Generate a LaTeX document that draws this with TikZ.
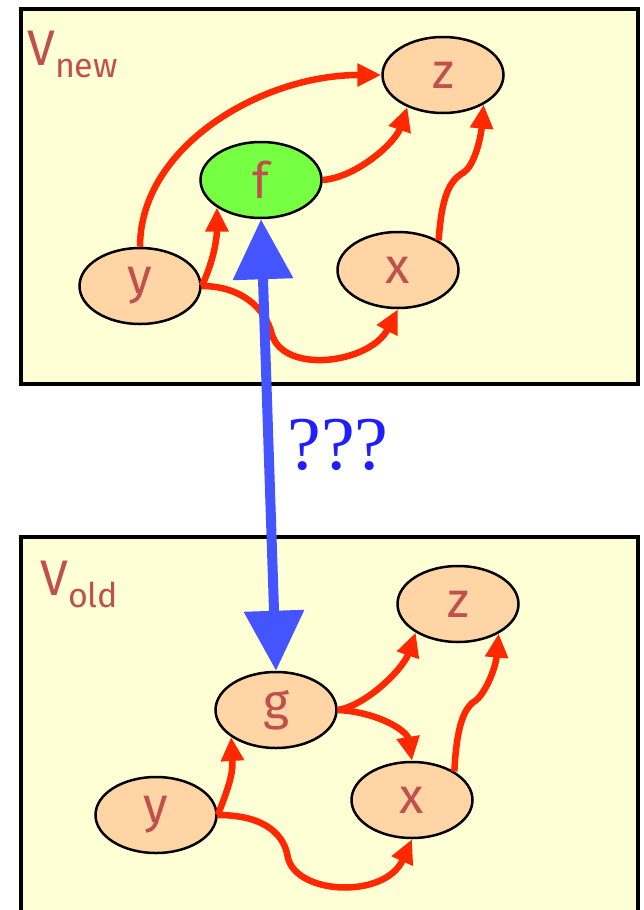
\documentclass[tikz,border=0pt]{standalone}
\usepackage{fontspec}
\setmainfont{Liberation Serif}
\newfontfamily\handfont{Fira Sans}
\usetikzlibrary{arrows.meta, shapes.geometric}

\definecolor{paper}{RGB}{255,255,213}
\definecolor{peach}{RGB}{255,213,165}
\definecolor{lime}{RGB}{119,255,68}
\definecolor{ink}{RGB}{192,80,77}
\definecolor{wire}{RGB}{255,40,0}
\definecolor{link}{RGB}{68,85,255}
\definecolor{qblue}{RGB}{30,30,255}

\begin{document}
\begin{tikzpicture}[x=1pt, y=-1pt,
  vtx/.style={ellipse, draw, line width=2.5pt, fill=peach, minimum width=121pt,
              minimum height=76pt, inner sep=0pt, text=ink,
              font=\handfont\fontsize{50}{50}\selectfont},
  frame/.style={draw, line width=4pt, fill=paper},
  title/.style={anchor=base west, inner sep=0pt, text=ink,
                font=\handfont\fontsize{50}{50}\selectfont},
  dep/.style={draw=wire, line width=6.5pt, -{Triangle[length=24pt, width=22pt]}},
  same/.style={draw=link, line width=10pt,
               {Triangle[length=60pt, width=58pt]}-{Triangle[length=60pt, width=58pt]}},
  qmark/.style={text=qblue, inner sep=0pt, font=\rmfamily\fontsize{76}{76}\selectfont}
]
\clip (0,0) rectangle (643,910);

%  upper box : V_new,  lower box : V_old

% --- V_new ---
\draw[frame] (21,9) rectangle (638,384);
\node[title] (tnew) at (27,65) {V\raisebox{-12pt}{\fontsize{34}{34}\selectfont new}};

\node[vtx] (nz) at (443,75) {z};
\node[vtx, fill=lime] (nf) at (261,180) {f};
\node[vtx] (ny) at (140,286) {y};
\node[vtx] (nx) at (398,270) {x};

\draw[dep] (ny.north) .. controls +(0,-100) and +(-120,0) .. (nz.west);
\draw[dep] (ny.east) .. controls +(12,-25) and +(0,30) .. (nf.212);
\draw[dep] (nf.east) .. controls +(35,-3) and +(-12,35) .. (nz.222);
\draw[dep] (nx.36) .. controls +(3,-45) and +(-14,8) .. ([shift={(25,-68)}]nx.36)
           .. controls +(10,-6) and +(-3,35) .. (nz.-36);
\draw[dep] (ny.east) .. controls +(40,0) and +(-6,-25) .. ([shift={(70,48)}]ny.east)
           .. controls +(12,41) and +(-28,54) .. (nx.south);

% --- V_old ---
\draw[frame] (21,537) rectangle (638,930);
\node[title] (told) at (40,595) {V\raisebox{-12pt}{\fontsize{34}{34}\selectfont old}};

\node[vtx] (oz) at (458,604) {z};
\node[vtx] (og) at (276,710) {g};
\node[vtx] (oy) at (156,815) {y};
\node[vtx] (ox) at (412,800) {x};

\draw[dep] (oy.east) .. controls +(12,-30) and +(2,35) .. (og.211);
\draw[dep] (oy.east) .. controls +(50,0) and +(-3,-20) .. ([shift={(70,42)}]oy.east)
           .. controls +(8,38) and +(-27,60) .. (ox.south);
\draw[dep] (og.east) .. controls +(30,-5) and +(-12,35) .. (oz.214);
\draw[dep] (og.east) .. controls +(40,2) and +(-5,-30) .. (ox.north);
\draw[dep] (ox.34) .. controls +(2,-40) and +(-12,8) .. ([shift={(20,-70)}]ox.34)
           .. controls +(10,-6) and +(-3,35) .. (oz.-36);

% --- f vs g ---
\draw[same] (nf.south) -- node[qmark, pos=0.5, right=14pt] {???} (og.north);

\end{tikzpicture}
\end{document}
